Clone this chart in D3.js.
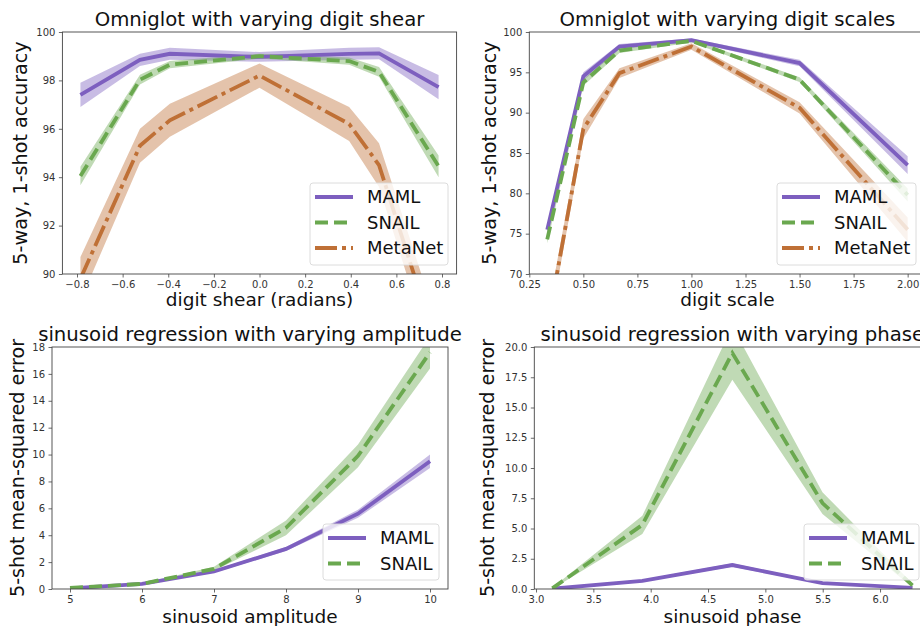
<!DOCTYPE html>
<html>
<head>
<meta charset="utf-8">
<script src="https://cdnjs.cloudflare.com/ajax/libs/d3/7.8.5/d3.min.js"></script>
<style>
  body { margin: 0; background: #fff; }
  svg { display: block; font-family: "DejaVu Sans", sans-serif; }
</style>
</head>
<body>
<svg id="chart" width="920" height="626"></svg>
<script>
// ---- data ----
var shearX = [-0.785, -0.524, -0.393, 0, 0.393, 0.524, 0.785];
var shearMaml = [97.4, 98.85, 99.1, 98.97, 99.1, 99.12, 97.72];
var shearMamlErr = [0.5, 0.25, 0.25, 0.2, 0.25, 0.25, 0.5];
var shearSnail = [94.05, 98.03, 98.65, 99.0, 98.8, 98.35, 94.45];
var shearSnailErr = [0.38, 0.2, 0.15, 0.1, 0.15, 0.2, 0.45];
var shearMeta = [89.8, 95.3, 96.35, 98.2, 96.2, 94.5, 86.8];
var shearMetaErr = [0.9, 0.7, 0.68, 0.5, 0.7, 0.9, 1.0];

var scaleX = [0.333, 0.5, 0.667, 1.0, 1.5, 2.0];
var scaleMaml = [75.5, 94.5, 98.2, 99.0, 96.15, 83.5];
var scaleMamlErr = [0.5, 0.5, 0.3, 0.2, 0.4, 1.1];
var scaleSnail = [74.3, 93.75, 97.7, 98.9, 94.1, 79.8];
var scaleSnailErr = [0.5, 0.4, 0.3, 0.2, 0.3, 0.8];
var scaleMeta = [63.4, 88.0, 94.9, 98.2, 90.6, 75.5];
var scaleMetaErr = [1.5, 1.2, 0.6, 0.4, 0.7, 1.5];

var ampX = [5, 6, 7, 8, 9, 10];
var ampMaml = [0.05, 0.38, 1.3, 2.98, 5.6, 9.5];
var ampMamlErr = [0.03, 0.05, 0.1, 0.15, 0.3, 0.5];
var ampSnail = [0.08, 0.38, 1.5, 4.55, 9.9, 17.6];
var ampSnailErr = [0.03, 0.05, 0.15, 0.55, 0.85, 1.2];

var phaseX = [3.142, 3.927, 4.712, 5.498, 6.283];
var phaseMaml = [0.02, 0.68, 1.98, 0.48, 0.1];
var phaseMamlErr = [0.02, 0.08, 0.15, 0.08, 0.03];
var phaseSnail = [0.05, 5.3, 19.5, 7.1, 0.3];
var phaseSnailErr = [0.05, 0.75, 2.2, 0.9, 0.15];

var shearTicks = [-0.8, -0.6, -0.4, -0.2, 0, 0.2, 0.4, 0.6, 0.8];
var scaleTicks = [0.25, 0.5, 0.75, 1.0, 1.25, 1.5, 1.75, 2.0];
var ampTicks = [5, 6, 7, 8, 9, 10];
var phaseTicks = [3.0, 3.5, 4.0, 4.5, 5.0, 5.5, 6.0];

// ---- styles ----
var styles = {
  MAML: { color: "#7d5fbf", dash: null },
  SNAIL: { color: "#6aa84f", dash: "13,6" },
  MetaNet: { color: "#bf7036", dash: "22,5,4,5" }
};

var svg = d3.select("#chart");
var minus = function (s) { return s.replace("-", "\u2212"); };

var panels = [
  {
    id: "p1", x0: 62.4, x1: 456.6, y0: 32, y1: 274,
    xDomain: [-0.864, 0.864], yDomain: [90, 100],
    xTicks: shearTicks, yTicks: d3.range(90, 101, 2),
    xFmt: function (d) { return minus(d3.format(".1f")(d)); }, yFmt: d3.format("d"),
    title: "Omniglot with varying digit shear", xLabel: "digit shear (radians)",
    yLabel: "5-way, 1-shot accuracy", yLabelX: 27, titleY: 26, xLabelY: 306,
    legend: { x: 310, y: 183, w: 138, h: 82 },
    series: [
      { name: "MAML", x: shearX, y: shearMaml, e: shearMamlErr },
      { name: "SNAIL", x: shearX, y: shearSnail, e: shearSnailErr },
      { name: "MetaNet", x: shearX, y: shearMeta, e: shearMetaErr }
    ]
  },
  {
    id: "p2", x0: 529.3, x1: 925.6, y0: 32, y1: 274,
    xDomain: [0.25, 2.083], yDomain: [70, 100],
    xTicks: scaleTicks, yTicks: d3.range(70, 101, 5),
    xFmt: d3.format(".2f"), yFmt: d3.format("d"),
    title: "Omniglot with varying digit scales", xLabel: "digit scale",
    yLabel: "5-way, 1-shot accuracy", yLabelX: 496, titleY: 26, xLabelY: 306,
    legend: { x: 777, y: 183, w: 139, h: 82 },
    series: [
      { name: "MAML", x: scaleX, y: scaleMaml, e: scaleMamlErr },
      { name: "SNAIL", x: scaleX, y: scaleSnail, e: scaleSnailErr },
      { name: "MetaNet", x: scaleX, y: scaleMeta, e: scaleMetaErr }
    ]
  },
  {
    id: "p3", x0: 52, x1: 448, y0: 347, y1: 589,
    xDomain: [4.75, 10.25], yDomain: [0, 18],
    xTicks: ampTicks, yTicks: d3.range(0, 19, 2),
    xFmt: d3.format("d"), yFmt: d3.format("d"),
    title: "sinusoid regression with varying amplitude", xLabel: "sinusoid amplitude",
    yLabel: "5-shot mean-squared error", yLabelX: 24, titleY: 341, xLabelY: 623,
    legend: { x: 323, y: 524, w: 116, h: 56 },
    series: [
      { name: "MAML", x: ampX, y: ampMaml, e: ampMamlErr },
      { name: "SNAIL", x: ampX, y: ampSnail, e: ampSnailErr }
    ]
  },
  {
    id: "p4", x0: 534.3, x1: 930.5, y0: 347, y1: 589,
    xDomain: [2.985, 6.44], yDomain: [0, 20],
    xTicks: phaseTicks, yTicks: d3.range(0, 20.1, 2.5),
    xFmt: d3.format(".1f"), yFmt: d3.format(".1f"),
    title: "sinusoid regression with varying phase", xLabel: "sinusoid phase",
    yLabel: "5-shot mean-squared error", yLabelX: 494, titleY: 341, xLabelY: 623,
    legend: { x: 804, y: 524, w: 115, h: 56 },
    series: [
      { name: "MAML", x: phaseX, y: phaseMaml, e: phaseMamlErr },
      { name: "SNAIL", x: phaseX, y: phaseSnail, e: phaseSnailErr }
    ]
  }
];

panels.forEach(drawPanel);

function drawPanel(p) {
  var x = d3.scaleLinear().domain(p.xDomain).range([p.x0, p.x1]);
  var y = d3.scaleLinear().domain(p.yDomain).range([p.y1, p.y0]);
  var g = svg.append("g");

  g.append("clipPath").attr("id", "clip-" + p.id)
    .append("rect").attr("x", p.x0).attr("y", p.y0)
    .attr("width", p.x1 - p.x0).attr("height", p.y1 - p.y0);

  var plot = g.append("g").attr("clip-path", "url(#clip-" + p.id + ")");

  // bands first, then lines
  p.series.forEach(function (s) {
    var pts = s.x.map(function (d, i) { return { x: d, y: s.y[i], e: s.e[i] }; });
    var area = d3.area()
      .x(function (d) { return x(d.x); })
      .y0(function (d) { return y(d.y - d.e); })
      .y1(function (d) { return y(d.y + d.e); });
    plot.append("path").datum(pts).attr("d", area)
      .attr("fill", styles[s.name].color).attr("fill-opacity", 0.42);
  });
  p.series.forEach(function (s) {
    var pts = s.x.map(function (d, i) { return { x: d, y: s.y[i] }; });
    var line = d3.line().x(function (d) { return x(d.x); }).y(function (d) { return y(d.y); });
    plot.append("path").datum(pts).attr("d", line)
      .attr("fill", "none").attr("stroke", styles[s.name].color)
      .attr("stroke-width", 3.8).attr("stroke-dasharray", styles[s.name].dash);
  });

  // axes
  var xAxis = d3.axisBottom(x).tickValues(p.xTicks).tickFormat(p.xFmt).tickSizeOuter(0).tickSize(3.5).tickPadding(3.5);
  var yAxis = d3.axisLeft(y).tickValues(p.yTicks).tickFormat(p.yFmt).tickSizeOuter(0).tickSize(3.5).tickPadding(3.5);
  var ax = g.append("g").attr("transform", "translate(0," + p.y1 + ")").call(xAxis);
  var ay = g.append("g").attr("transform", "translate(" + p.x0 + ",0)").call(yAxis);
  [ax, ay].forEach(function (a) {
    a.select(".domain").remove();
    a.selectAll("line").attr("stroke", "#444").attr("stroke-width", 0.8);
    a.selectAll("text").attr("fill", "#333").style("font-size", "10px")
      .style("font-family", "DejaVu Sans, sans-serif");
  });

  // frame
  g.append("rect").attr("x", p.x0).attr("y", p.y0)
    .attr("width", p.x1 - p.x0).attr("height", p.y1 - p.y0)
    .attr("fill", "none").attr("stroke", "#444").attr("stroke-width", 0.9);

  // texts
  var cx = (p.x0 + p.x1) / 2, cy = (p.y0 + p.y1) / 2;
  g.append("text").attr("x", cx).attr("y", p.titleY).attr("text-anchor", "middle")
    .style("font-size", "19.7px").attr("fill", "#111").text(p.title);
  g.append("text").attr("x", cx).attr("y", p.xLabelY).attr("text-anchor", "middle")
    .style("font-size", "18.5px").attr("fill", "#111").text(p.xLabel);
  g.append("text").attr("transform", "translate(" + p.yLabelX + "," + cy + ") rotate(-90)")
    .attr("text-anchor", "middle").style("font-size", "19.2px").attr("fill", "#111").text(p.yLabel);

  // legend
  var L = p.legend;
  var lg = g.append("g");
  lg.append("rect").attr("x", L.x).attr("y", L.y).attr("width", L.w).attr("height", L.h)
    .attr("rx", 3).attr("fill", "#fff").attr("fill-opacity", 0.8)
    .attr("stroke", "#d8d8d8").attr("stroke-width", 0.9);
  p.series.forEach(function (s, i) {
    var ry = L.y + 14 + i * 25.5;
    lg.append("line").attr("x1", L.x + 5).attr("x2", L.x + 43).attr("y1", ry).attr("y2", ry)
      .attr("stroke", styles[s.name].color).attr("stroke-width", 3.8)
      .attr("stroke-dasharray", styles[s.name].dash);
    lg.append("text").attr("x", L.x + 57).attr("y", ry).attr("dy", "0.36em")
      .style("font-size", "18px").attr("fill", "#111").text(s.name);
  });
}
</script>
</body>
</html>
